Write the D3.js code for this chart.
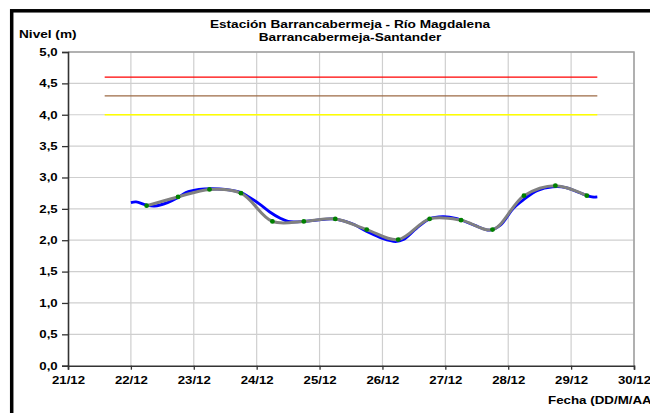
<!DOCTYPE html>
<html>
<head>
<meta charset="utf-8">
<script src="https://cdn.jsdelivr.net/npm/d3@7"></script>
<style>
  body { margin: 0; background: #fff; }
  text { font-family: "Liberation Sans", Arial, sans-serif; font-weight: bold; fill: #000; }
</style>
</head>
<body>
<div id="chart"></div>
<script>
// observed level (blue)
var obsTimes = ["22/12 00:00","22/12 02:00","22/12 06:00","22/12 09:00","22/12 14:00","22/12 18:00","22/12 21:00",
  "23/12 02:00","23/12 07:00","23/12 12:00","23/12 18:00","23/12 21:00",
  "24/12 01:00","24/12 05:00","24/12 09:00","24/12 12:00","24/12 18:00","24/12 23:00",
  "25/12 05:00","25/12 12:00","25/12 18:00",
  "26/12 00:00","26/12 05:00","26/12 08:00","26/12 13:00","26/12 18:00","26/12 23:00",
  "27/12 04:00","27/12 11:00","27/12 17:00","27/12 21:00",
  "28/12 02:00","28/12 06:00","28/12 11:00","28/12 17:00","28/12 22:00",
  "29/12 03:00","29/12 08:00","29/12 10:00"];
var obsValues = [2.60,2.61,2.56,2.545,2.60,2.68,2.76,
  2.81,2.82,2.81,2.76,2.69,
  2.58,2.45,2.35,2.30,2.30,2.32,
  2.34,2.27,2.14,
  2.03,1.98,2.01,2.19,2.34,2.375,
  2.35,2.24,2.16,2.24,
  2.51,2.65,2.79,2.85,2.84,
  2.76,2.69,2.69];

// smoothed level (gray line, green markers)
var fcTimes = ["22/12 06:00","22/12 18:00","23/12 06:00","23/12 18:00","24/12 06:00","24/12 18:00",
  "25/12 06:00","25/12 18:00","26/12 06:00","26/12 18:00","27/12 06:00","27/12 18:00",
  "28/12 06:00","28/12 18:00","29/12 06:00"];
var fcValues = [2.55,2.69,2.81,2.75,2.30,2.30,2.34,2.17,2.01,2.34,2.32,2.17,2.71,2.87,2.71];

// alert levels
var alertNames = ["roja","naranja","amarilla"];
var alertValues = [4.6,4.3,4.0];
var alertColors = ["#ff0000","#9c6a44","#ffff00"];
var alertStart = "21/12 14:00", alertEnd = "29/12 10:00";

var xTicks = ["21/12","22/12","23/12","24/12","25/12","26/12","27/12","28/12","29/12","30/12"];
var yTicks = [0,0.5,1,1.5,2,2.5,3,3.5,4,4.5,5];

var parse = d3.timeParse("%d/%m %H:%M");
var fmtY = function(d) { return d3.format(".1f")(d).replace(".", ","); };
var sx = 1.27; // text is drawn a bit wide

var width = 650, height = 413;
var pLeft = 68, pRight = 634, pTop = 52, pBottom = 365.7;

var svg = d3.select("#chart").append("svg")
  .attr("width", width)
  .attr("height", height);

var x = d3.scaleTime()
  .domain([parse("21/12 00:00"), parse("30/12 00:00")])
  .range([pLeft, pRight]);
var y = d3.scaleLinear()
  .domain([0, 5])
  .range([pBottom, pTop]);

// grid
svg.append("g").selectAll("line.h")
  .data(yTicks.slice(1))
  .enter().append("line")
  .attr("x1", pLeft).attr("x2", pRight)
  .attr("y1", function(d) { return y(d); })
  .attr("y2", function(d) { return y(d); })
  .attr("stroke", "#cfcfcf").attr("stroke-width", 1.2);
svg.append("g").selectAll("line.v")
  .data(xTicks.slice(1))
  .enter().append("line")
  .attr("x1", function(d) { return x(parse(d + " 00:00")); })
  .attr("x2", function(d) { return x(parse(d + " 00:00")); })
  .attr("y1", pTop).attr("y2", pBottom)
  .attr("stroke", "#cfcfcf").attr("stroke-width", 1.2);

// plot frame right/top
svg.append("path")
  .attr("d", "M" + pLeft + "," + pTop + "H" + pRight + "V" + pBottom)
  .attr("fill", "none").attr("stroke", "#a0a0a0").attr("stroke-width", 1.5);

// axes
var yAxis = svg.append("g")
  .attr("transform", "translate(" + pLeft + ",0)")
  .call(d3.axisLeft(y).tickValues(yTicks).tickFormat(fmtY).tickSize(6).tickPadding(4));
var xAxis = svg.append("g")
  .attr("transform", "translate(0," + pBottom + ")")
  .call(d3.axisBottom(x).tickValues(xTicks.map(function(d) { return parse(d + " 00:00"); }))
    .tickFormat(d3.timeFormat("%d/%m")).tickSize(4).tickPadding(7));

[yAxis, xAxis].forEach(function(a) {
  a.select(".domain").attr("stroke", "#333").attr("stroke-width", 1.6);
  a.selectAll(".tick line").attr("stroke", "#333").attr("stroke-width", 1.3);
  a.selectAll("text").style("font-size", "10.4px").attr("fill", "#000");
});
yAxis.selectAll("text").attr("x", -10.3 / sx).attr("transform", "scale(" + sx + ",1)");
xAxis.selectAll("text").attr("transform", "scale(" + sx + ",1)");

// alert lines
svg.append("g").selectAll("line")
  .data(alertValues)
  .enter().append("line")
  .attr("x1", x(parse(alertStart))).attr("x2", x(parse(alertEnd)))
  .attr("y1", function(d) { return y(d); })
  .attr("y2", function(d) { return y(d); })
  .attr("stroke", function(d, i) { return alertColors[i]; })
  .attr("stroke-width", 1.4);

// observed
var obs = obsTimes.map(function(t, i) { return { t: parse(t), v: obsValues[i] }; });
var fc = fcTimes.map(function(t, i) { return { t: parse(t), v: fcValues[i] }; });

var line = d3.line()
  .x(function(d) { return x(d.t); })
  .y(function(d) { return y(d.v); })
  .curve(d3.curveCatmullRom);

svg.append("path")
  .datum(obs)
  .attr("d", line)
  .attr("fill", "none")
  .attr("stroke", "#0000ff")
  .attr("stroke-width", 2.8);

svg.append("path")
  .datum(fc)
  .attr("d", line)
  .attr("fill", "none")
  .attr("stroke", "#808080")
  .attr("stroke-width", 3)
  .attr("stroke-linecap", "round");

svg.append("g").selectAll("circle")
  .data(fc)
  .enter().append("circle")
  .attr("cx", function(d) { return x(d.t); })
  .attr("cy", function(d) { return y(d.v); })
  .attr("r", 2.4)
  .attr("fill", "#008000");

// texts
function label(px, py, txt, anchor, k) {
  svg.append("g")
    .attr("transform", "translate(" + px + "," + py + ") scale(" + k + ",1)")
    .append("text")
    .attr("text-anchor", anchor)
    .style("font-size", "10.5px")
    .text(txt);
}
label(350, 28, "Estación Barrancabermeja - Río Magdalena", "middle", 1.3);
label(350, 41, "Barrancabermeja-Santander", "middle", 1.3);
label(19, 37.5, "Nivel (m)", "start", 1.3);
label(548, 404, "Fecha (DD/M/AAAA)", "start", 1.27);

// outer frame
svg.append("rect")
  .attr("x", 11.7).attr("y", 10.8)
  .attr("width", 800).attr("height", 600)
  .attr("fill", "none")
  .attr("stroke", "#000")
  .attr("stroke-width", 3.5);
</script>
</body>
</html>
